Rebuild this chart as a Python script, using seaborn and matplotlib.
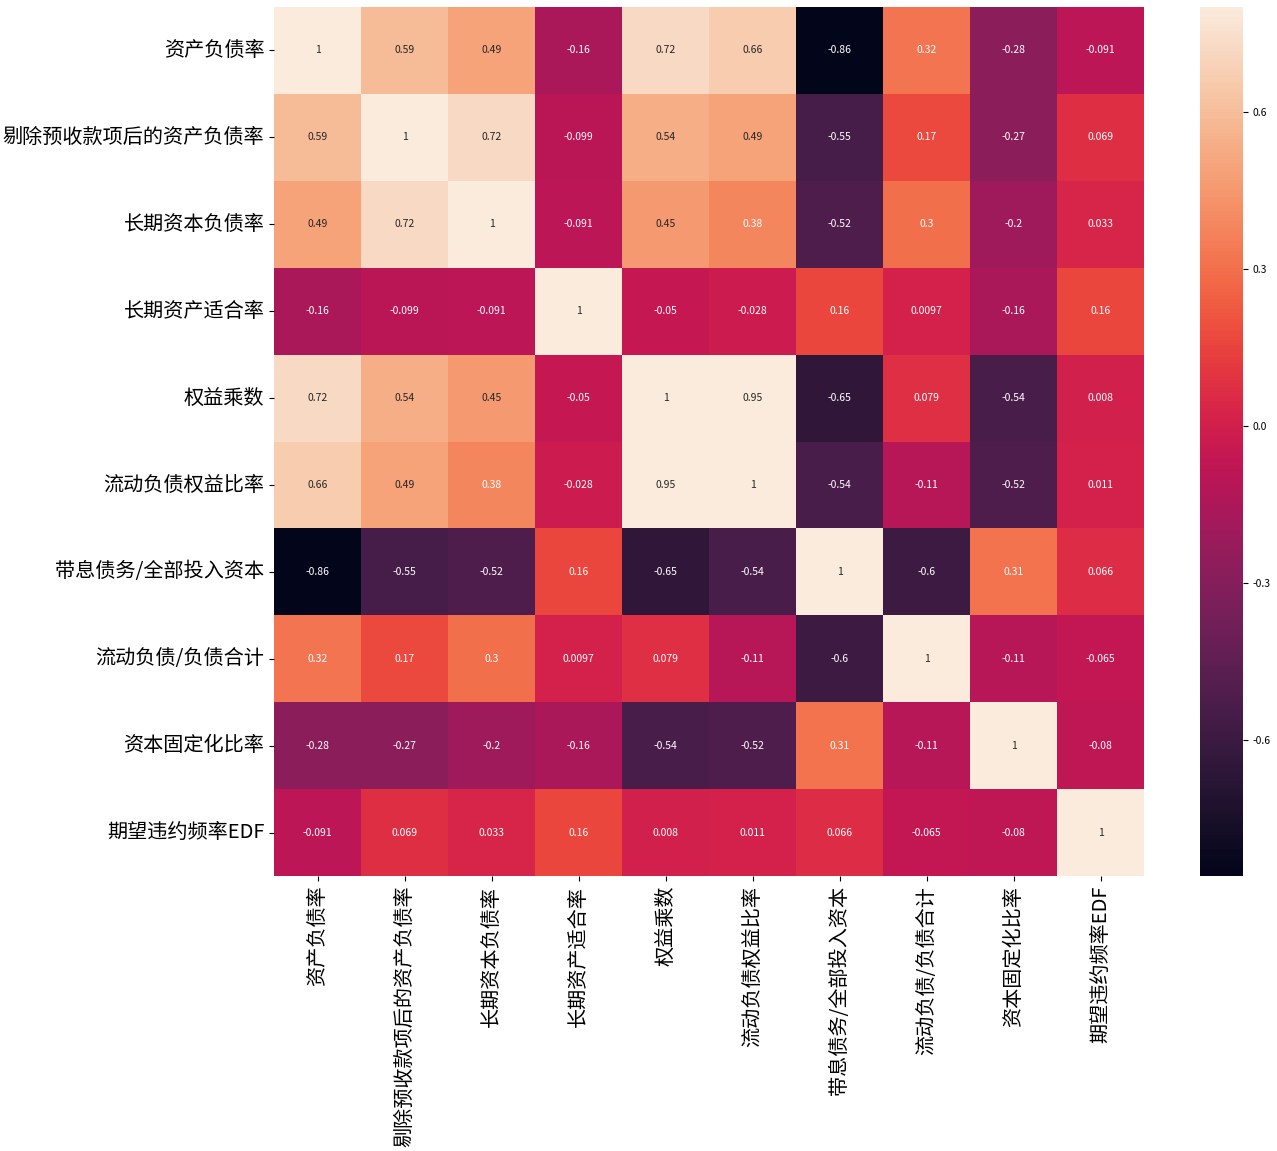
import matplotlib
matplotlib.use("Agg")
import matplotlib.pyplot as plt
import seaborn as sns
import pandas as pd
import numpy as np

labels = ['资产负债率', '剔除预收款项后的资产负债率', '长期资本负债率', '长期资产适合率',
          '权益乘数', '流动负债权益比率', '带息债务/全部投入资本', '流动负债/负债合计',
          '资本固定化比率', '期望违约频率EDF']

row_0 = [1, 0.59, 0.49, -0.16, 0.72, 0.66, -0.86, 0.32, -0.28, -0.091]
row_1 = [0.59, 1, 0.72, -0.099, 0.54, 0.49, -0.55, 0.17, -0.27, 0.069]
row_2 = [0.49, 0.72, 1, -0.091, 0.45, 0.38, -0.52, 0.3, -0.2, 0.033]
row_3 = [-0.16, -0.099, -0.091, 1, -0.05, -0.028, 0.16, 0.0097, -0.16, 0.16]
row_4 = [0.72, 0.54, 0.45, -0.05, 1, 0.95, -0.65, 0.079, -0.54, 0.008]
row_5 = [0.66, 0.49, 0.38, -0.028, 0.95, 1, -0.54, -0.11, -0.52, 0.011]
row_6 = [-0.86, -0.55, -0.52, 0.16, -0.65, -0.54, 1, -0.6, 0.31, 0.066]
row_7 = [0.32, 0.17, 0.3, 0.0097, 0.079, -0.11, -0.6, 1, -0.11, -0.065]
row_8 = [-0.28, -0.27, -0.2, -0.16, -0.54, -0.52, 0.31, -0.11, 1, -0.08]
row_9 = [-0.091, 0.069, 0.033, 0.16, 0.008, 0.011, 0.066, -0.065, -0.08, 1]

cbar_ticks = [-0.6, -0.3, 0.0, 0.3, 0.6]

corr = pd.DataFrame([row_0, row_1, row_2, row_3, row_4, row_5, row_6, row_7, row_8, row_9],
                    index=labels, columns=labels)

plt.rcParams['font.family'] = ['Noto Sans CJK SC', 'DejaVu Sans']
plt.rcParams['axes.unicode_minus'] = False

fig = plt.figure(figsize=(12.77, 11.51), dpi=100)
ax = fig.add_axes([0.2146, 0.2389, 0.6813, 0.755])
cax = fig.add_axes([0.9397, 0.2389, 0.0337, 0.755])

sns.heatmap(corr, vmax=0.8, annot=True, fmt='.2g',
            annot_kws={'size': 7.5}, ax=ax, cbar_ax=cax)

cax.set_yticks(cbar_ticks)
cax.set_yticklabels([f'{t:.1f}' for t in cbar_ticks])
cax.tick_params(labelsize=7.5)

ax.set_xticklabels(labels, rotation=90, fontsize=14.5)
ax.set_yticklabels(labels, rotation=0, fontsize=14.5)

fig.savefig('out.png', dpi=100)
plt.close()
